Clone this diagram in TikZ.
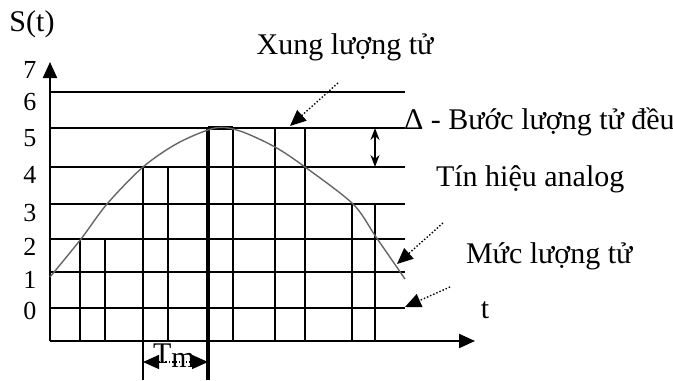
\documentclass[tikz,border=0pt]{standalone}
\usepackage{fontspec}
\setmainfont{Liberation Serif}
\usetikzlibrary{arrows.meta}

\tikzset{
	thinline/.style={line width=0.75pt},
	heavy/.style={line width=1.3pt},
	axis/.style={line width=1.1pt, -{Triangle[length=8pt,width=7pt]}},
	pointer/.style={densely dotted, line width=0.7pt, -{Triangle[length=8pt,width=7pt]}},
	lbl/.style={font=\fontsize{15}{18}\selectfont},
	num/.style={font=\fontsize{13}{15}\selectfont},
}

\begin{document}
\begin{tikzpicture}[x=0.5pt,y=-0.5pt]
		\useasboundingbox (0,0) rectangle (673,380);
		
		% quantisation levels
		\foreach \y in {128,167,239,272,308}
			\draw[thinline] (50,\y) -- (405,\y);
		\foreach \y in {92,204}
			\draw[heavy] (50,\y) -- (405,\y);
		
		% samples
		\draw[thinline] (80,341) |- (105,239) -- (105,341);
		\draw[thinline] (143,380) -- (143,167);
		\draw[heavy] (143,167) -- (168,167);
		\draw[thinline] (168,167) -- (168,341);
		\draw[line width=1.7pt] (208,380) -- (208,128);
		\draw[line width=1.7pt] (208,128) -- (233,128);
		\draw[thinline] (233,128) -- (233,341);
		\draw[thinline] (275,341) |- (305,128) -- (305,341);
		\draw[line width=1pt] (275,128) -- (305,128);
		\draw[thinline] (352,341) |- (375,204) -- (375,341);
		
		% axes
		\draw[axis] (50,341) -- (50,62);
		\draw[axis] (50,341) -- (475,341);
		
		% analog signal
		\draw[gray!80!black, line width=0.7pt] plot[smooth, tension=0.5] coordinates {
			(50,277) (81,239) (107,204) (143,167) (178,143) (215,128)
			(240,131) (275,147) (305,167) (353,204) (376,237) (405,279)};
		
		% level numbers
		\foreach \n/\y in {7/70,6/102,5/138,4/175,3/213,2/247,1/280,0/311}
			\node[num] (n\n) at (30,\y) {\n};
		
		\node[lbl] (st) at (32,24) {S(t)};
		\node[lbl] (tlab) at (485,310) {t};
		\node[lbl] (xung) at (345,47) {Xung lượng tử};
		\node[lbl, anchor=base west] (buoc) at (397,129) {Δ - Bước lượng tử đều};
		\node[lbl, anchor=base west] (tin) at (429,186) {Tín hiệu analog};
		\node[lbl, anchor=base west] (muc) at (459,263) {Mức lượng tử};
		
		% step size
		\coordinate (d1) at (375,128);
		\coordinate (d2) at (375,167);
		\draw[thinline, {Stealth[length=6pt]}-{Stealth[length=6pt]}] (d1) -- (d2);
		
		% pointers
		\coordinate (p1) at (338,83);
		\coordinate (q1) at (290,126);
		\draw[pointer] (p1) -- (q1);
		\coordinate (p2) at (443,223);
		\coordinate (q2) at (397,264);
		\draw[pointer] (p2) -- (q2);
		\coordinate (p3) at (450,287);
		\coordinate (q3) at (405,307);
		\draw[pointer] (p3) -- (q3);
		
		% sampling period
		\coordinate (t1) at (143,362);
		\coordinate (t2) at (208,362);
		\draw[densely dotted, line width=0.7pt, {Triangle[length=8pt,width=7pt]}-{Triangle[length=8pt,width=7pt]}] (t1) -- (t2);
		\node[lbl, inner sep=0pt] (tm) at (174,356) {T\raisebox{-2pt}{m}};
	\end{tikzpicture}
\end{document}
